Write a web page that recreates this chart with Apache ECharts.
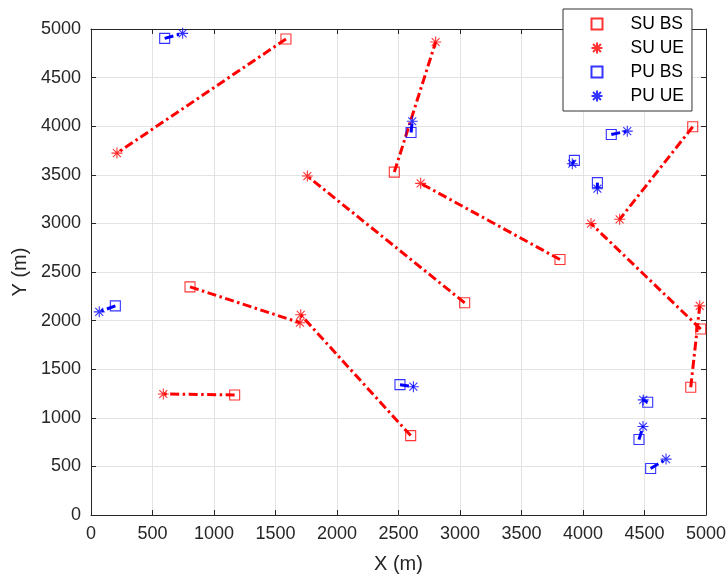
<!DOCTYPE html>
<html>
<head>
<meta charset="utf-8">
<script src="https://cdn.jsdelivr.net/npm/echarts@6/dist/echarts.min.js"></script>
<style>
  html, body { margin: 0; padding: 0; background: #fff; }
  #chart { width: 727px; height: 574px; }
</style>
</head>
<body>
<div id="chart"></div>
<script>
// SU pairs: base station -> user
var suBsX = [1585, 2466, 3038, 3813, 4892, 4957, 4876, 805, 2599, 1168];
var suBsY = [4897, 3528, 2183, 2628, 3994, 1913, 1314, 2347, 817, 1235];
var suUeX = [211, 2802, 1759, 2680, 4298, 4065, 4949, 1699, 1705, 588];
var suUeY = [3723, 4866, 3487, 3412, 3042, 2998, 2152, 1978, 2060, 1245];

// PU pairs
var puBsX = [599, 2602, 3930, 4117, 4230, 198, 2512, 4526, 4455, 4550];
var puBsY = [4904, 3935, 3648, 3419, 3915, 2152, 1341, 1160, 776, 479];
var puUeX = [745, 2612, 3913, 4117, 4360, 67, 2621, 4490, 4488, 4675];
var puUeY = [4955, 4051, 3614, 3357, 3949, 2090, 1320, 1184, 910, 575];

var axisTicks = [0, 500, 1000, 1500, 2000, 2500, 3000, 3500, 4000, 4500, 5000];

var RED = '#ff0000';
var BLUE = '#0000ff';
var STAR = 'path://M0,-1L0,1M-1,0L1,0M-0.72,-0.72L0.72,0.72M-0.72,0.72L0.72,-0.72';
var FONT = '"Liberation Sans", Arial, sans-serif';

function zip(xs, ys) {
    var out = [];
    for (var i = 0; i < xs.length; i++) out.push([xs[i], ys[i]]);
    return out;
}

var series = [];

// connecting lines first, markers drawn on top
function addLinks(bx, by, ux, uy, color) {
    for (var i = 0; i < bx.length; i++) {
        series.push({
            type: 'line',
            name: 'link',
            data: [[bx[i], by[i]], [ux[i], uy[i]]],
            symbol: 'none',
            silent: true,
            animation: false,
            clip: false,
            lineStyle: { color: color, width: 3, type: [9, 3.5, 2.5, 3.5], cap: 'butt' },
            z: 2
        });
    }
}
addLinks(suBsX, suBsY, suUeX, suUeY, RED);
addLinks(puBsX, puBsY, puUeX, puUeY, BLUE);

function markers(name, xs, ys, symbol, color, size) {
    return {
        type: 'scatter',
        name: name,
        data: zip(xs, ys),
        symbol: symbol,
        symbolSize: size,
        clip: false,
        animation: false,
        itemStyle: { color: 'none', borderColor: color, borderWidth: 1.1, opacity: 0.8 },
        z: 3
    };
}
series.push(markers('SU BS', suBsX, suBsY, 'rect', RED, 10));
series.push(markers('SU UE', suUeX, suUeY, STAR, RED, 11));
series.push(markers('PU BS', puBsX, puBsY, 'rect', BLUE, 10));
series.push(markers('PU UE', puUeX, puUeY, STAR, BLUE, 11));

function axisBase(pos, showLabel) {
    return {
        type: 'value',
        position: pos,
        min: axisTicks[0],
        max: axisTicks[axisTicks.length - 1],
        interval: 500,
        axisLine: { show: true, onZero: false, lineStyle: { color: '#262626', width: 1 } },
        axisTick: { show: true, inside: true, length: 5, lineStyle: { color: '#262626' } },
        axisLabel: {
            show: showLabel, color: '#262626', fontSize: 18, fontFamily: FONT, margin: 10,
            formatter: function (v) { return String(v); }
        },
        splitLine: { show: showLabel, lineStyle: { color: '#e3e3e3', width: 1 } }
    };
}

var xBottom = axisBase('bottom', true);
xBottom.name = 'X (m)';
xBottom.nameLocation = 'middle';
xBottom.nameGap = 39;
xBottom.nameTextStyle = { color: '#262626', fontSize: 20, fontFamily: FONT };
var xTop = axisBase('top', false);

var yLeft = axisBase('left', true);
yLeft.name = 'Y (m)';
yLeft.nameLocation = 'middle';
yLeft.nameGap = 50;
yLeft.nameTextStyle = { color: '#262626', fontSize: 20, fontFamily: FONT };
var yRight = axisBase('right', false);

var chart = echarts.init(document.getElementById('chart'));
chart.setOption({
    backgroundColor: '#fff',
    animation: false,
    grid: { left: 91, right: 21, top: 29, bottom: 59, outerBoundsMode: 'none', containLabel: false },
    xAxis: [xBottom, xTop],
    yAxis: [yLeft, yRight],
    legend: {
        orient: 'vertical',
        left: 563,
        top: 9,
        width: 124,
        padding: [6, 8, 6, 26],
        itemGap: 6,
        itemWidth: 11,
        itemHeight: 11,
        backgroundColor: '#fff',
        borderColor: '#333',
        borderWidth: 1,
        textStyle: { color: '#000', fontSize: 17.5, fontFamily: FONT, padding: [0, 6, 0, 23] },
        data: ['SU BS', 'SU UE', 'PU BS', 'PU UE']
    },
    series: series
});
</script>
</body>
</html>
